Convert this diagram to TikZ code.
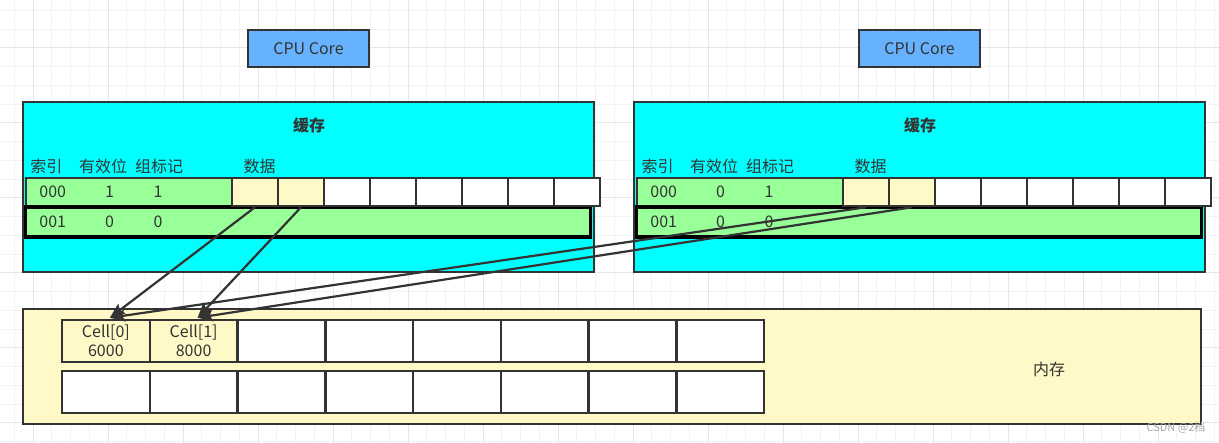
\documentclass[tikz,border=0pt]{standalone}
\usepackage{fontspec}
\setmainfont{Noto Sans CJK SC}
\usetikzlibrary{arrows.meta,positioning,calc}

\definecolor{cpublue}{HTML}{66B2FF}
\definecolor{cachecyan}{HTML}{00FFFF}
\definecolor{taggreen}{HTML}{99FF99}
\definecolor{memyel}{HTML}{FFF9C7}
\definecolor{linegray}{HTML}{333333}
\definecolor{gridminor}{HTML}{F3F3F3}
\definecolor{gridmajor}{HTML}{E6E6E6}

\begin{document}
\begin{tikzpicture}[
		x=1pt,y=-1pt,
		>={Stealth[length=15pt,width=12pt,inset=2.5pt]},
		every node/.style={font=\fontsize{16}{18}\selectfont, text=linegray, inner sep=0pt},
		box/.style={draw=linegray, line width=2.5pt},
		cpubox/.style={box, fill=cpublue, minimum width=121pt, minimum height=37pt},
		cachebox/.style={box, fill=cachecyan, minimum width=571pt, minimum height=170pt},
		tagrow/.style={box, fill=taggreen, minimum width=206pt, minimum height=28pt},
		linerow/.style={draw=black, line width=3.5pt, fill=taggreen, minimum width=565pt, minimum height=30pt},
		datacell/.style={box, fill=white, minimum width=46pt, minimum height=28pt},
		membox/.style={box, fill=memyel, minimum width=1178pt, minimum height=115pt},
		memcell/.style={box, fill=white, minimum width=87.75pt, minimum height=42pt, align=center, font=\fontsize{16}{19}\selectfont},
		link/.style={->, draw=linegray, fill=linegray, line width=2.2pt}
		]
		
		% background grid
		\useasboundingbox (0,0) rectangle (1219,443);
		\fill[white] (0,0) rectangle (1219,443);
		\foreach \k in {0,...,64} {
			\draw[gridminor, line width=1pt] ({14.25+18.75*\k},0) -- ++(0,443);
		}
		\foreach \k in {0,...,23} {
			\draw[gridminor, line width=1pt] (0,{10.5+18.75*\k}) -- ++(1219,0);
		}
		\foreach \k in {0,...,15} {
			\draw[gridmajor, line width=1pt] ({33+75*\k},0) -- ++(0,443);
		}
		\foreach \k in {0,...,5} {
			\draw[gridmajor, line width=1pt] (0,{48+75*\k}) -- ++(1219,0);
		}
		
		% =========================
		% two cores, each with its cache
		% =========================
		\foreach \s/\dx/\v in {L/0/1, R/611/0} {
			\begin{scope}[xshift=\dx]
				\node[cpubox] (cpu\s) at (308.5,48.5) {CPU Core};
				\node[cachebox] (cache\s) at (308.5,187) {};
				\node[font=\bfseries\fontsize{16}{18}\selectfont] (title\s) at (309,125) {缓存};
				
				% column heads
				\node (idx\s) at (46.5,166) {索引};
				\node (valid\s) at (103,166) {有效位};
				\node (tag\s) at (159,166) {组标记};
				\node (data\s) at (259.6,166) {数据};
				
				% rows
				\node[tagrow] (rowa\s) at (129,192) {};
				\node[linerow] (rowb\s) at (308,222) {};
				\node (ia\s) at (52.7,192) {000};
				\node (va\s) at (109.5,192) {\v};
				\node (ta\s) at (158,192) {1};
				\node (ib\s) at (52.7,222) {001};
				\node (vb\s) at (109.5,222) {0};
				\node (tb\s) at (158,222) {0};
				
				% data block
				\foreach \k/\f in {1/memyel,2/memyel,3/white,4/white,5/white,6/white,7/white,8/white} {
					\node[datacell, fill=\f] (d\s\k) at ({209+46*\k},192) {};
				}
			\end{scope}
		}
		
		% =========================
		% main memory
		% =========================
		\node[membox] (mem) at (612,366.5) {};
		\node (memlabel) at (1049,369) {内存};
		\foreach \k in {1,...,8} {
			\node[memcell] (m\k) at ({62+87.75*(\k-0.5)},341) {};
			\node[memcell] (n\k) at ({62+87.75*(\k-0.5)},392) {};
		}
		\node[memcell, fill=memyel] at (m1) {Cell[0]\\6000};
		\node[memcell, fill=memyel] at (m2) {Cell[1]\\8000};
		
		% links from cache lines to memory cells
		\draw[link] (dL1.south) -- ([xshift=4pt,yshift=1pt]m1.north);
		\draw[link] (dL2.south) -- ([xshift=4pt,yshift=1pt]m2.north);
		\draw[link] (dR1.south) -- ([xshift=4pt,yshift=1pt]m1.north);
		\draw[link] (dR2.south) -- ([xshift=4pt,yshift=1pt]m2.north);
		
		\node[text=gray!70, font=\fontsize{11}{12}\selectfont] (mark) at (1176,428) {CSDN @2档};
		
	\end{tikzpicture}
\end{document}
